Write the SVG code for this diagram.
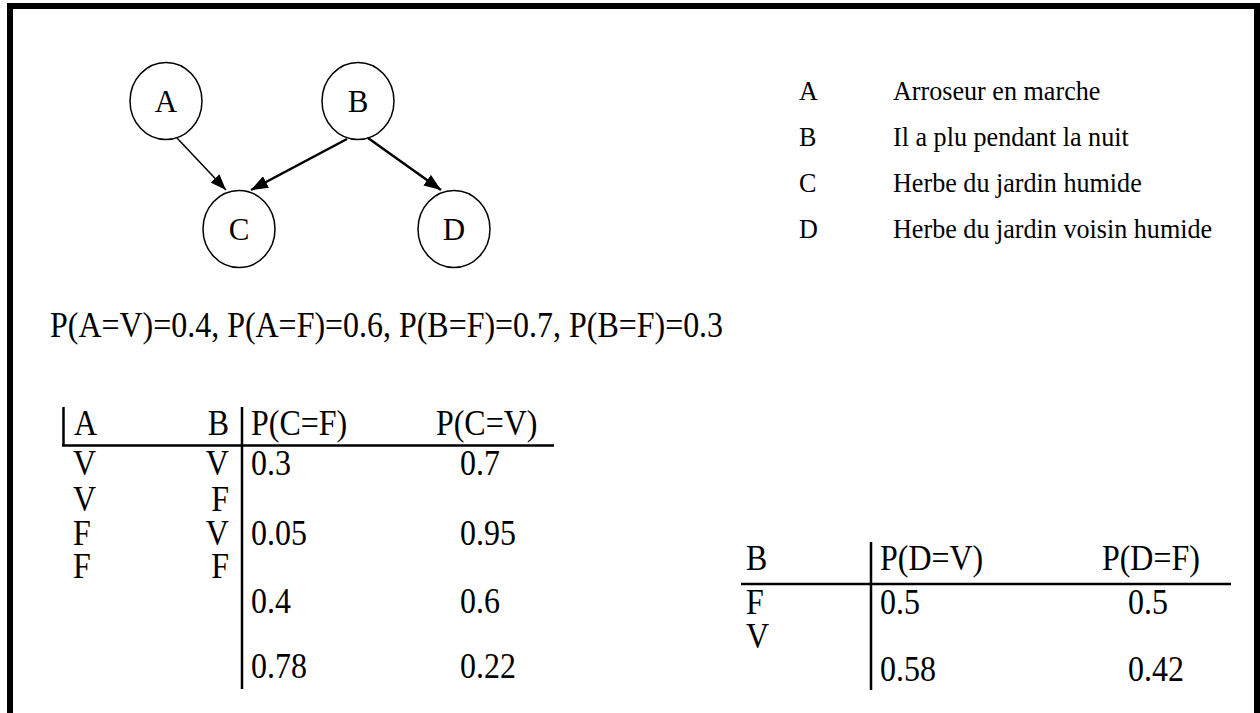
<svg xmlns="http://www.w3.org/2000/svg" width="1260" height="713" viewBox="0 0 1260 713" font-family="'Liberation Serif','Times New Roman',serif">
<defs>
<style>
text{font-family:"Liberation Serif","Times New Roman",serif;fill:#000}
.nd{font-size:31px;text-anchor:middle}
.lg{font-size:27.5px}
.tx{font-size:35.5px}
.node ellipse{fill:#fff;stroke:#000;stroke-width:1.5}
.rule{stroke:#000;stroke-width:2.5;fill:none}
</style>
<marker id="ahS" viewBox="0 0 16 12" refX="16" refY="6" markerWidth="16" markerHeight="12" markerUnits="userSpaceOnUse" orient="auto"><path d="M0,0 L16,6 L0,12 z" fill="#000"/></marker>
<marker id="ahL" viewBox="0 0 17 13" refX="17" refY="6.5" markerWidth="17" markerHeight="13" markerUnits="userSpaceOnUse" orient="auto"><path d="M0,0 L17,6.5 L0,13 z" fill="#000"/></marker>
</defs>
<rect x="0" y="0" width="1260" height="713" fill="#fff"/>
<rect x="10" y="6" width="1247" height="720" fill="none" stroke="#000" stroke-width="6"/>
<g id="connectors">
<line x1="177" y1="138" x2="226" y2="190" stroke="#000" stroke-width="1.5" marker-end="url(#ahS)"/>
<line x1="347" y1="139" x2="251" y2="190" stroke="#000" stroke-width="2.5" marker-end="url(#ahL)"/>
<line x1="368" y1="138" x2="441" y2="190" stroke="#000" stroke-width="2.5" marker-end="url(#ahL)"/>
</g>
<g id="node-A" class="node"><ellipse cx="166" cy="101" rx="36" ry="38.5"/><text class="nd" x="166" y="112">A</text></g>
<g id="node-B" class="node"><ellipse cx="358" cy="101" rx="36" ry="38.5"/><text class="nd" x="358" y="112">B</text></g>
<g id="node-C" class="node"><ellipse cx="239" cy="229" rx="36" ry="38.5"/><text class="nd" x="239" y="240">C</text></g>
<g id="node-D" class="node"><ellipse cx="454" cy="229" rx="36" ry="38.5"/><text class="nd" x="454" y="240">D</text></g>
<g id="legend" transform="scale(0.95 1)">
<text class="lg" x="841" y="100">A</text><text class="lg" x="940" y="100">Arroseur en marche</text>
<text class="lg" x="841" y="146">B</text><text class="lg" x="940" y="146">Il a plu pendant la nuit</text>
<text class="lg" x="841" y="192">C</text><text class="lg" x="940" y="192">Herbe du jardin humide</text>
<text class="lg" x="841" y="238">D</text><text class="lg" x="940" y="238">Herbe du jardin voisin humide</text>
</g>
<g id="priors" transform="scale(0.9 1)">
<text class="tx" x="55.6" y="337">P(A=V)=0.4, P(A=F)=0.6, P(B=F)=0.7, P(B=F)=0.3</text>
</g>
<g id="table-C">
<line class="rule" x1="63.5" y1="407" x2="63.5" y2="446"/>
<line class="rule" x1="62" y1="445.5" x2="554" y2="445.5"/>
<line class="rule" x1="242" y1="407" x2="242" y2="689"/>
<g transform="scale(0.9 1)">
<text class="tx" x="82.2" y="435">A</text>
<text class="tx" x="254.4" y="435" text-anchor="end">B</text>
<text class="tx" x="278.9" y="435">P(C=F)</text>
<text class="tx" x="484.4" y="435">P(C=V)</text>
<text class="tx" x="81.1" y="475">V</text><text class="tx" x="254.4" y="475" text-anchor="end">V</text>
<text class="tx" x="278.9" y="475">0.3</text><text class="tx" x="511.1" y="475">0.7</text>
<text class="tx" x="81.1" y="511">V</text><text class="tx" x="254.4" y="511" text-anchor="end">F</text>
<text class="tx" x="81.1" y="545">F</text><text class="tx" x="254.4" y="545" text-anchor="end">V</text>
<text class="tx" x="278.9" y="545">0.05</text><text class="tx" x="511.1" y="545">0.95</text>
<text class="tx" x="81.1" y="578">F</text><text class="tx" x="254.4" y="578" text-anchor="end">F</text>
<text class="tx" x="278.9" y="613">0.4</text><text class="tx" x="511.1" y="613">0.6</text>
<text class="tx" x="278.9" y="678">0.78</text><text class="tx" x="511.1" y="678">0.22</text>
</g>
</g>
<g id="table-D">
<line class="rule" x1="741" y1="584" x2="1231" y2="584"/>
<line class="rule" x1="871" y1="542" x2="871" y2="690"/>
<g transform="scale(0.9 1)">
<text class="tx" x="828.9" y="570">B</text>
<text class="tx" x="977.8" y="570">P(D=V)</text>
<text class="tx" x="1224.4" y="570">P(D=F)</text>
<text class="tx" x="828.9" y="614">F</text>
<text class="tx" x="977.8" y="614">0.5</text><text class="tx" x="1253.3" y="614">0.5</text>
<text class="tx" x="828.9" y="648">V</text>
<text class="tx" x="977.8" y="681">0.58</text><text class="tx" x="1253.3" y="681">0.42</text>
</g>
</g>
</svg>
